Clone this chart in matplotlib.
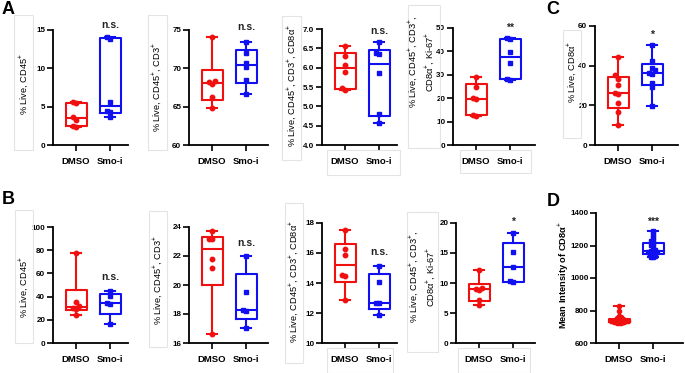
import numpy as np
import matplotlib
matplotlib.use("Agg")
import matplotlib.pyplot as plt
from matplotlib.patches import Rectangle

plt.rcParams['font.family'] = ['Liberation Sans', 'DejaVu Sans']
plt.rcParams['mathtext.fontset'] = 'custom'
plt.rcParams['mathtext.rm'] = 'Liberation Sans'
plt.rcParams['mathtext.bf'] = 'Liberation Sans:bold'

groups = ["DMSO", "Smo-i"]

# panel A
a1_dmso = [2.4, 2.45, 3.3, 3.65, 5.45, 5.6]
a1_smo = [3.6, 4.3, 4.5, 5.65, 13.85, 14.05]
a2_dmso = [64.8, 66.2, 68.0, 68.2, 68.3, 74.1]
a2_smo = [66.6, 68.5, 70.2, 70.75, 72.0, 73.5]
a3_dmso = [5.42, 5.47, 5.88, 6.08, 6.31, 6.57]
a3_smo = [4.56, 4.80, 5.85, 6.35, 6.38, 6.66]
a4_dmso = [12.5, 13.0, 19.5, 20.0, 25.0, 29.2]
a4_smo = [27.8, 28.3, 35.2, 39.6, 45.1, 45.6]
# panel C
c_dmso = [10.0, 16.8, 21.0, 25.5, 26.3, 30.3, 33.5, 35.4, 44.3]
c_smo = [19.8, 29.1, 31.4, 36.0, 36.2, 37.8, 38.7, 42.5, 50.5]
# panel B
b1_dmso = [24.3, 29.5, 30.5, 31.5, 35.0, 78.0]
b1_smo = [16.6, 33.8, 34.8, 40.2, 44.4]
b2_dmso = [16.6, 21.15, 21.8, 23.15, 23.2, 23.7]
b2_smo = [17.05, 18.2, 18.25, 19.55, 22.0]
b3_dmso = [12.9, 14.5, 14.55, 15.9, 16.3, 17.55]
b3_smo = [11.85, 12.65, 12.7, 14.1, 15.15]
b4_dmso = [6.3, 7.25, 8.9, 9.05, 9.1, 12.2]
b4_smo = [10.15, 10.35, 12.7, 15.1, 18.4]
# panel D
d_dmso = [722, 724, 726, 728, 730, 731, 732, 733, 734, 735, 736, 737, 738,
          740, 742, 745, 748, 752, 758, 768, 795, 830]
d_smo = [1128, 1132, 1135, 1140, 1145, 1150, 1152, 1155, 1158, 1160, 1162,
         1165, 1170, 1180, 1195, 1205, 1215, 1225, 1235, 1250, 1270, 1288]

W, H = 685, 373
fig = plt.figure(figsize=(W / 100, H / 100), dpi=100)

RED = '#f01010'
BLUE = '#1010f0'


def px_axes(x0, x1, ytop, ybot):
    return fig.add_axes([x0 / W, 1 - ybot / H, (x1 - x0) / W, (ybot - ytop) / H])


def swarm(vals, yrange, hpx, dpx=4.0, step=0.09, kmax=4):
    # spread overlapping points sideways like Prism
    tol = yrange / hpx * dpx
    placed = []
    offs = np.zeros(len(vals))
    ks = [0]
    for k in range(1, kmax + 1):
        ks += [-k, k]
    for i in np.argsort(vals):
        v = vals[i]
        o = 0.0
        for k in ks:
            o = k * step
            if all(abs(v - pv) >= tol or abs(o - po) >= step * 0.9 for pv, po in placed):
                break
        offs[i] = o
        placed.append((v, o))
    return offs


def panel(x0, x1, ytop, ybot, dmso, smo, ylim, yticks, fmt, sig, sig_y,
          dpx=4.0, step=0.09, kmax=4, ms=3.2):
    ax = px_axes(x0, x1, ytop, ybot)
    tick_sp = 34.0
    ax.set_xlim(0.32, 0.32 + (x1 - x0) / tick_sp)
    ax.set_ylim(*ylim)
    stats = []
    for d in (dmso, smo):
        d = np.asarray(d, float)
        q1, med, q3 = np.percentile(d, [25, 50, 75], method='weibull')
        stats.append(dict(med=med, q1=q1, q3=q3, whislo=d.min(), whishi=d.max(), fliers=[]))
    for i, (st, c) in enumerate(zip(stats, (RED, BLUE))):
        ax.bxp([st], positions=[i + 1], widths=0.62, capwidths=0.3, showfliers=False,
               boxprops=dict(color=c, lw=1.5), medianprops=dict(color=c, lw=1.5),
               whiskerprops=dict(color=c, lw=1.5), capprops=dict(color=c, lw=1.5))
    hpx = ybot - ytop
    for i, (d, c, m) in enumerate(((dmso, RED, 'o'), (smo, BLUE, 's'))):
        d = np.asarray(d, float)
        offs = swarm(d, ylim[1] - ylim[0], hpx, dpx, step, kmax)
        ax.plot(i + 1 + offs, d, ls='none', marker=m, ms=ms, color=c, zorder=3)
    for s in ('top', 'right'):
        ax.spines[s].set_visible(False)
    for s in ('left', 'bottom'):
        ax.spines[s].set_linewidth(1.3)
    ax.set_xticks([1, 2])
    ax.set_xticklabels(groups, fontweight='bold', fontsize=6.8)
    ax.set_yticks(yticks)
    ax.set_yticklabels([fmt.format(t) for t in yticks], fontweight='bold', fontsize=5.8)
    ax.tick_params(axis='both', length=4, width=1.2, pad=1.5)
    ax.tick_params(axis='x', pad=5)
    ax.text(2, ylim[0] + (ylim[1] - ylim[0]) * (ybot - sig_y) / hpx, sig,
            ha='center', va='center', fontsize=7.5, fontweight='bold', color='#222222')
    return ax


def label(x, y, s, bold=False):
    fig.text(x / W, 1 - y / H, s, rotation=90, ha='center', va='center',
             fontsize=6.7, fontweight='bold' if bold else 'normal', linespacing=1.4)


def frame(x0, y0, x1, y1):
    fig.patches.append(Rectangle((x0 / W, 1 - y1 / H), (x1 - x0) / W, (y1 - y0) / H,
                                 transform=fig.transFigure, fill=False,
                                 ec='#e4e4e4', lw=0.8, zorder=0))


# light frames left from the original layout
frame(14, 15, 33, 150)
frame(148, 15, 167, 150)
frame(282, 16, 301, 160)
frame(408, 5, 440, 148)
frame(563, 30, 581, 138)
frame(327, 150, 400, 175)
frame(460, 150, 531, 173)
frame(15, 210, 33, 343)
frame(149, 211, 167, 347)
frame(285, 203, 303, 363)
frame(407, 212, 438, 352)
frame(327, 348, 393, 373)
frame(458, 348, 530, 373)

panel(53, 128, 30, 145, a1_dmso, a1_smo, (0, 15), [0, 5, 10, 15], '{:g}', 'n.s.', 25)
panel(189, 268, 30, 145, a2_dmso, a2_smo, (60, 75), [60, 65, 70, 75], '{:g}', 'n.s.', 27)
panel(322, 397, 29, 145, a3_dmso, a3_smo, (4.0, 7.0), np.arange(4.0, 7.01, 0.5), '{:.1f}', 'n.s.', 31)
panel(453, 535, 28, 145, a4_dmso, a4_smo, (0, 50), [0, 10, 20, 30, 40, 50], '{:g}', '**', 28)
panel(595, 678, 26, 145, c_dmso, c_smo, (0, 60), [0, 20, 40, 60], '{:g}', '*', 35)
panel(53, 128, 227, 343, b1_dmso, b1_smo, (0, 100), [0, 20, 40, 60, 80, 100], '{:g}', 'n.s.', 277)
panel(189, 268, 227, 343, b2_dmso, b2_smo, (16, 24), [16, 18, 20, 22, 24], '{:g}', 'n.s.', 243)
panel(322, 397, 223, 343, b3_dmso, b3_smo, (10, 18), [10, 12, 14, 16, 18], '{:g}', 'n.s.', 252)
panel(456, 535, 223, 343, b4_dmso, b4_smo, (0, 20), [0, 5, 10, 15, 20], '{:g}', '*', 222)
panel(596, 683, 213, 343, d_dmso, d_smo, (600, 1400), [600, 800, 1000, 1200, 1400], '{:g}', '***', 222,
      dpx=2.0, step=0.05, kmax=5, ms=3.0)

label(24, 84, '% Live, CD45$^{+}$')
label(157, 87, '% Live, CD45$^{+}$, CD3$^{+}$')
label(292, 86, '% Live, CD45$^{+}$, CD3$^{+}$, CD8α$^{+}$')
label(421, 62, '% Live, CD45$^{+}$, CD3$^{+}$,\nCD8α$^{+}$, Ki-67$^{+}$')
label(572, 72, '% Live, CD8α$^{+}$')
label(24, 287, '% Live, CD45$^{+}$')
label(158, 280, '% Live, CD45$^{+}$, CD3$^{+}$')
label(294, 282, '% Live, CD45$^{+}$, CD3$^{+}$, CD8α$^{+}$')
label(422, 277, '% Live, CD45$^{+}$, CD3$^{+}$,\nCD8α$^{+}$, Ki-67$^{+}$')
label(564, 275, 'Mean Intensity of CD8α$^{+}$', bold=True)

for x, y, s in ((8, 9, 'A'), (8, 200, 'B'), (553, 9, 'C'), (553, 202, 'D')):
    fig.text(x / W, 1 - y / H, s, ha='center', va='center', fontsize=13, fontweight='bold')

fig.savefig('out.png', dpi=100)
